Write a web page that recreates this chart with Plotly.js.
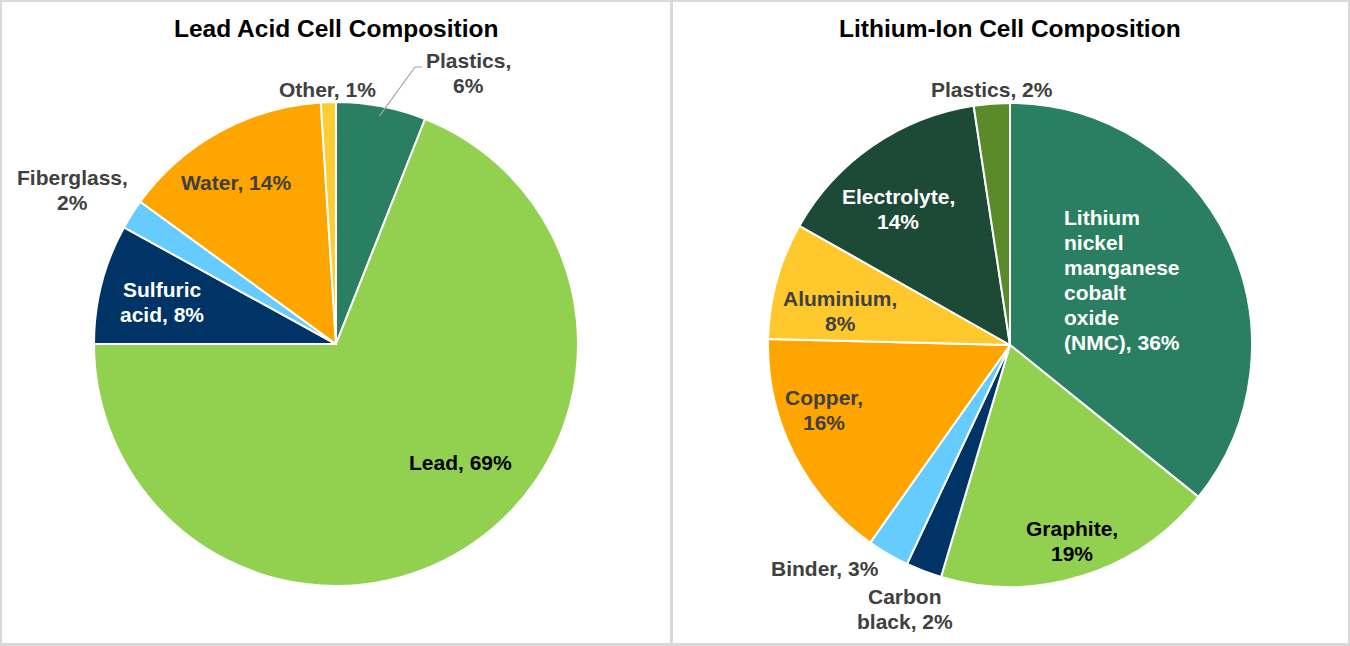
<!DOCTYPE html>
<html>
<head>
<meta charset="utf-8">
<script src="https://cdn.plot.ly/plotly-3.0.1.min.js"></script>
<style>html,body{margin:0;padding:0;background:#fff}#chart{width:1350px;height:646px}</style>
</head>
<body>
<div id="chart"></div>
<script>
// ---- data ----
const leadTitle = 'Lead Acid Cell Composition';
const leadLabels = ['Plastics', 'Lead', 'Sulfuric acid', 'Fiberglass', 'Water', 'Other'];
const leadValues = [6, 69, 8, 2, 14, 1];
const liTitle = 'Lithium-Ion Cell Composition';
const liLabels = ['Lithium nickel manganese cobalt oxide (NMC)', 'Graphite', 'Carbon black', 'Binder', 'Copper', 'Aluminium', 'Electrolyte', 'Plastics'];
const liValues = [35.8, 18.8, 2.4, 2.8, 15.6, 7.8, 14.4, 2.4];

// ---- styling ----
const W = 1350, H = 646;
const FONT = 'Liberation Sans, Arial, sans-serif';
const LABEL_SIZE = 21, LINE_GAP = 25;
const leadColors = ['#2A7F62', '#92D050', '#003366', '#66CCFF', '#FFA500', '#FFCC33'];
const liColors = ['#2A7F62', '#92D050', '#003366', '#66CCFF', '#FFA500', '#FFC92E', '#1C4A37', '#5A8A2A'];
const leadTextColors = ['#404040', '#000000', '#FFFFFF', '#404040', '#404040', '#404040'];
const liTextColors = ['#FFFFFF', '#000000', '#404040', '#404040', '#404040', '#404040', '#FFFFFF', '#404040'];
// label line wrapping (display form of names)
const leadWrap = ['Plastics,|', 'Lead, ', 'Sulfuric|acid, ', 'Fiberglass,|', 'Water, ', 'Other, '];
const liWrap = ['Lithium|nickel|manganese|cobalt|oxide|(NMC), ', 'Graphite,|', 'Carbon|black, ', 'Binder, ', 'Copper,|', 'Aluminium,|', 'Electrolyte,|', 'Plastics, '];
// label placement: pixel offsets of the label block centre from pie centre
const leadLabelOff = [[132, -271], [124, 119], [-174, -42], [-264, -154], [-100, -161], [-9, -255]];
const liLabelOff = [[52, -65], [62, 196], [-105, 264], [-185, 223], [-186, 65], [-170, -34], [-112, -136], [-18, -256]];
const liAnchor = ['left', 'center', 'center', 'center', 'center', 'center', 'center', 'center'];

const R = 242;
const leadC = [336, 344];
const liC = [1010, 345];

const px = x => x / W;
const py = y => 1 - y / H;

function pieTrace(labels, values, colors, c) {
  return {
    type: 'pie', labels: labels, values: values, sort: false, direction: 'clockwise', rotation: 0,
    marker: {colors: colors, line: {color: '#FFFFFF', width: 2}},
    textinfo: 'none', hoverinfo: 'label+percent', showlegend: false,
    domain: {x: [px(c[0] - R), px(c[0] + R)], y: [py(c[1] + R), py(c[1] - R)]}
  };
}

const annotations = [];
function addLabels(wrap, values, offs, colors, c, anchors) {
  const total = values.reduce((a, b) => a + b, 0);
  values.forEach((v, i) => {
    const a = anchors ? anchors[i] : 'center';
    const lines = (wrap[i] + Math.round(v / total * 100) + '%').split('|');
    const n = lines.length;
    lines.forEach((ln, k) => {
      annotations.push({
        xref: 'paper', yref: 'paper',
        x: px(c[0] + offs[i][0]), y: py(c[1] + offs[i][1] + (k - (n - 1) / 2) * LINE_GAP),
        xanchor: a, yanchor: 'middle', align: a === 'left' ? 'left' : 'center', showarrow: false,
        text: ln,
        font: {family: FONT, size: LABEL_SIZE, color: colors[i], weight: 'bold'}
      });
    });
  });
}
addLabels(leadWrap, leadValues, leadLabelOff, leadTextColors, leadC, null);
addLabels(liWrap, liValues, liLabelOff, liTextColors, liC, liAnchor);

[[leadTitle, leadC[0]], [liTitle, liC[0]]].forEach(t => {
  annotations.push({
    xref: 'paper', yref: 'paper', x: px(t[1]), y: py(29), xanchor: 'center', yanchor: 'middle',
    showarrow: false, text: t[0], font: {family: FONT, size: 24.5, color: '#000000', weight: 'bold'}
  });
});

// leader line for the lead-acid "Plastics" slice, ending on the slice's mid angle
const leadTotal = leadValues.reduce((a, b) => a + b, 0);
const midAng = (leadValues[0] / 2) / leadTotal * 2 * Math.PI;
const ex = leadC[0] + R * 0.96 * Math.sin(midAng);
const ey = leadC[1] - R * 0.96 * Math.cos(midAng);
const lx0 = leadC[0] + leadLabelOff[0][0] - 46, ly0 = leadC[1] + leadLabelOff[0][1] - 6;

const shapes = [
  {type: 'rect', xref: 'paper', yref: 'paper', x0: px(2), x1: px(670), y0: py(643), y1: py(2), fillcolor: '#FFFFFF', line: {width: 0}, layer: 'below'},
  {type: 'rect', xref: 'paper', yref: 'paper', x0: px(673), x1: px(1348), y0: py(643), y1: py(2), fillcolor: '#FFFFFF', line: {width: 0}, layer: 'below'},
  {type: 'path', xref: 'paper', yref: 'paper',
   path: 'M ' + px(lx0) + ' ' + py(ly0) + ' L ' + px(lx0 - 7) + ' ' + py(ly0) + ' L ' + px(ex) + ' ' + py(ey),
   line: {color: '#A6A6A6', width: 1.2}, layer: 'above'}
];

const layout = {
  width: W, height: H, margin: {l: 0, r: 0, t: 0, b: 0},
  paper_bgcolor: '#D9D9D9', plot_bgcolor: '#FFFFFF',
  font: {family: FONT},
  showlegend: false, annotations: annotations, shapes: shapes
};

Plotly.newPlot('chart', [pieTrace(leadLabels, leadValues, leadColors, leadC), pieTrace(liLabels, liValues, liColors, liC)], layout, {displayModeBar: false, staticPlot: true});
</script>
</body>
</html>
